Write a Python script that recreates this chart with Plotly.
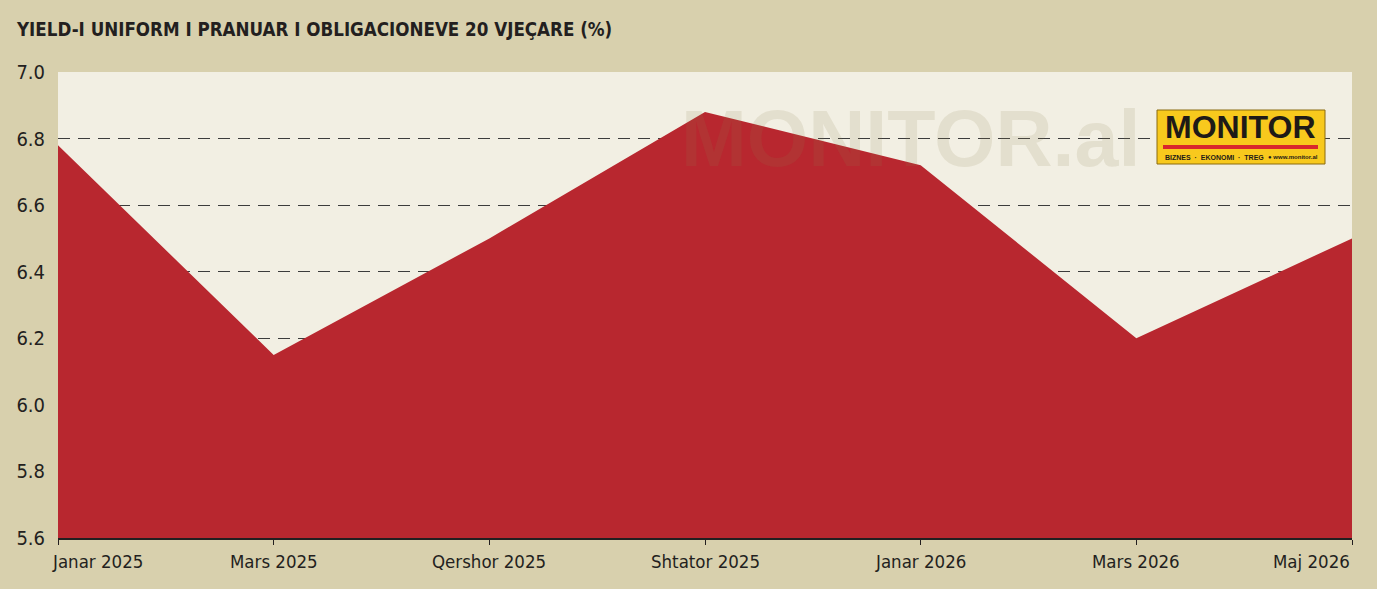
import plotly.graph_objects as go

categories = ["Janar 2025", "Mars 2025", "Qershor 2025", "Shtator 2025", "Janar 2026", "Mars 2026", "Maj 2026"]
yields = [6.78, 6.15, 6.50, 6.88, 6.72, 6.20, 6.50]
y_ticks = [5.6, 5.8, 6.0, 6.2, 6.4, 6.6, 6.8, 7.0]
y_tick_labels = ["5.6", "5.8", "6.0", "6.2", "6.4", "6.6", "6.8", "7.0"]
title_text = "YIELD-I UNIFORM I PRANUAR I OBLIGACIONEVE 20 VJEÇARE (%)"

W, H = 1377, 589
ML, MR, MT, MB = 58, 25, 72, 51
PW, PH = W - ML - MR, H - MT - MB

def px(x):
    return (x - ML) / PW

def py(y):
    return (H - MB - y) / PH

FONT = "DejaVu Sans Condensed, Liberation Sans Narrow, Arial Narrow, sans-serif"
LOGO_FONT = "Liberation Sans, Arial, sans-serif"
DARK = "#231F20"

fig = go.Figure()
fig.add_trace(go.Scatter(
    x=list(range(len(categories))), y=yields, mode="lines",
    line=dict(width=0, color="#B8272F"), fill="tozeroy", fillcolor="#B8272F",
    hoverinfo="skip", showlegend=False,
))

annotations = []
for i, c in enumerate(categories):
    if i == 0:
        xa, xs = "left", -8
    elif i == len(categories) - 1:
        xa, xs = "right", 0
    else:
        xa, xs = "center", 0
    annotations.append(dict(
        x=i, y=0, xref="x", yref="paper", text=c, showarrow=False,
        xanchor=xa, xshift=xs, yanchor="top", yshift=-11,
        font=dict(family=FONT, size=18.5, color=DARK),
    ))

# title
annotations.append(dict(
    x=px(14), y=py(29), xref="paper", yref="paper", xanchor="left", yanchor="middle",
    text="<b>" + title_text + "</b>", showarrow=False,
    font=dict(family=FONT, size=18.6, color=DARK),
))
# watermark
annotations.append(dict(
    x=px(910), y=py(138), xref="paper", yref="paper", text="<b>MONITOR.al</b>",
    xanchor="center", yanchor="middle", showarrow=False,
    font=dict(family=LOGO_FONT, size=79, color="rgba(140,125,77,0.14)"),
))
# logo text
annotations.append(dict(
    x=px(1240), y=py(127), xref="paper", yref="paper", text="<b>MONITOR</b>",
    xanchor="center", yanchor="middle", showarrow=False,
    font=dict(family=LOGO_FONT, size=32, color="#1E1A17"),
))
annotations.append(dict(
    x=px(1163), y=py(157), xref="paper", yref="paper", text="<b>BIZNES  ·  EKONOMI  ·  TREG</b>",
    xanchor="left", yanchor="middle", showarrow=False,
    font=dict(family=LOGO_FONT, size=7, color="#1E1A17"),
))
annotations.append(dict(
    x=px(1320), y=py(157), xref="paper", yref="paper", text="<b>● www.monitor.al</b>",
    xanchor="right", yanchor="middle", showarrow=False,
    font=dict(family=LOGO_FONT, size=6, color="#1E1A17"),
))

shapes = [
    dict(type="rect", xref="paper", yref="paper", x0=px(1157), x1=px(1325), y0=py(164), y1=py(110),
         fillcolor="#F8C91D", line=dict(color="#8A6B10", width=1), layer="above"),
    dict(type="rect", xref="paper", yref="paper", x0=px(1163), x1=px(1318), y0=py(149), y1=py(145),
         fillcolor="#D9262C", line=dict(width=0), layer="above"),
]

fig.update_layout(
    width=W, height=H,
    margin=dict(l=ML, r=MR, t=MT, b=MB),
    paper_bgcolor="#D8D0AD", plot_bgcolor="#F2EFE3",
    annotations=annotations, shapes=shapes,
    xaxis=dict(range=[0, len(categories) - 1], tickvals=list(range(len(categories))),
               showticklabels=False, showgrid=False, zeroline=False,
               ticks="outside", ticklen=5, tickcolor=DARK, tickwidth=1,
               showline=True, linecolor=DARK, linewidth=1.5),
    yaxis=dict(range=[5.6, 7.0], tickvals=y_ticks, ticktext=y_tick_labels,
               showgrid=True, gridcolor="#3C3C3C", gridwidth=1, griddash="12px,8px",
               zeroline=False, showline=False, ticks="",
               tickfont=dict(family=FONT, size=20, color=DARK), ticklabelstandoff=12),
    showlegend=False,
)

fig.write_html("out.html", config={"displayModeBar": False},
               post_script="document.body.style.margin='0';document.body.style.background='#D8D0AD';")
